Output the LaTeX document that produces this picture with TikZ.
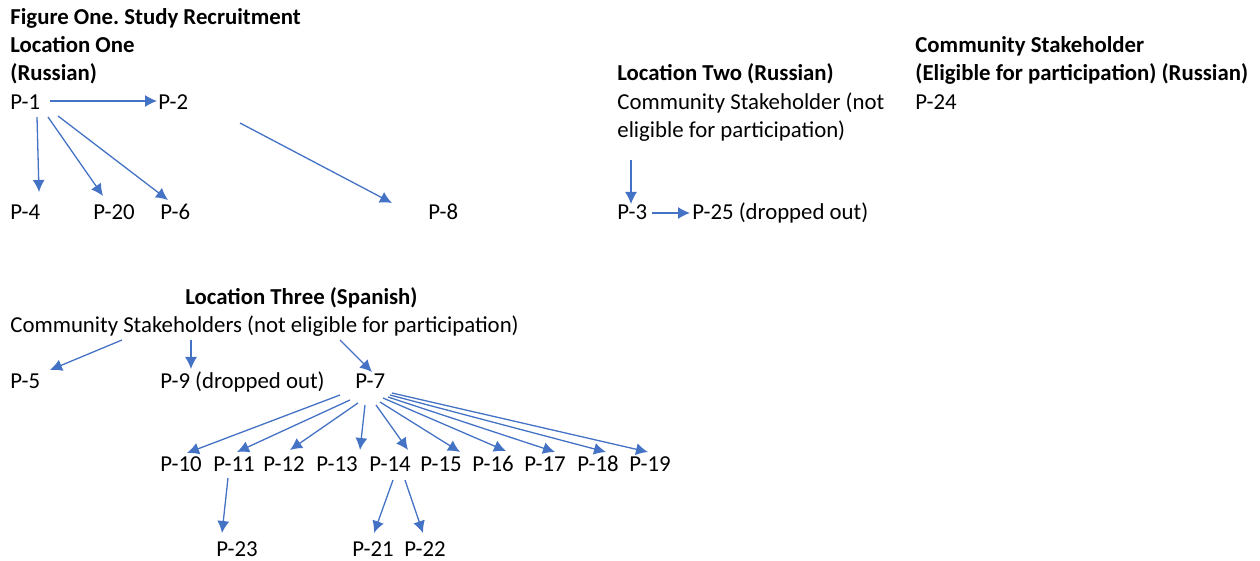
\documentclass[tikz,border=0pt]{standalone}
\usepackage{fontspec}
\setmainfont{Carlito}
\usetikzlibrary{calc}
\usetikzlibrary{arrows.meta}
\definecolor{linkblue}{RGB}{68,114,196}
\tikzset{>={Latex[length=6pt,width=6pt]}}
\tikzset{lbl/.style={anchor=base west, inner sep=0pt, align=left, font=\fontsize{11.4}{14}\selectfont},
  hdr/.style={lbl, font=\fontsize{11.4}{14}\selectfont\bfseries},
  link/.style={->, draw=linkblue, line width=.65pt}}

\begin{document}
\begin{tikzpicture}[x=.5pt, y=-.5pt]
    \useasboundingbox (0, 0) rectangle (1260, 561);
    \node[hdr](title) at (10, 25){Figure One.\ Study Recruitment};
    \node[hdr](loc1) at (10, 81){Location One\\(Russian)};
    \node[hdr](loc2) at (617, 81){Location Two (Russian)};
    \node[hdr](cs24) at (915, 81){Community Stakeholder\\(Eligible for participation) (Russian)};
    \node[hdr](loc3) at (185, 305){Location Three (Spanish)};
    % location one
    \node[lbl](p1) at (10, 110){P-1};
    \node[lbl](p2) at (158, 110){P-2};
    \node[lbl](p4) at (10, 220){P-4};
    \node[lbl](p20) at (93, 220){P-20};
    \node[lbl](p6) at (160, 220){P-6};
    \node[lbl](p8) at (428, 220){P-8};
    \draw[link]($(p1.base west)+(40, -9)$)--($(p2.base west)+(-1, -9)$);
    \draw[link]($(p1.base west)+(27, 7)$)--($(p4.base west)+(29, -28)$);
    \draw[link]($(p1.base west)+(38, 7)$)--($(p20.base west)+(10, -24)$);
    \draw[link]($(p1.base west)+(48, 6)$)--($(p6.base west)+(8, -20)$);
    \draw[link]($(p2.base west)+(82, 13)$)--($(p8.base west)+(-36, -17)$);
    % location two
    \node[lbl](cs2) at (617, 138){Community Stakeholder (not\\eligible for participation)};
    \node[lbl](p24) at (915, 110){P-24};
    \node[lbl](p3) at (617, 220){P-3};
    \node[lbl](p25) at (692, 220){P-25 (dropped out)};
    \draw[link]($(cs2.base west)+(14, 22)$)--($(p3.base west)+(14, -16)$);
    \draw[link]($(p3.base west)+(35, -7)$)--($(p25.base west)+(-2, -7)$);
    % location three
    \node[lbl](cs3) at (10, 333){Community Stakeholders (not eligible for participation)};
    \node[lbl](p5) at (10, 389){P-5};
    \node[lbl](p9) at (160, 389){P-9 (dropped out)};
    \node[lbl](p7) at (355, 389){P-7};
    \draw[link]($(cs3.base west)+(112, 7)$)--($(p5.base west)+(40, -19)$);
    \draw[link]($(cs3.base west)+(181, 7)$)--($(p9.base west)+(31, -20)$);
    \draw[link]($(cs3.base west)+(330, 7)$)--($(p7.base west)+(17, -17)$);
    \foreach \n/\x in {10/160, 11/213, 12/263, 13/316, 14/369, 15/420, 16/472, 17/524, 18/577, 19/629}
        \node[lbl](p\n) at (\x, 472){P-\n};
    \foreach \n/\a/\b/\c/\d in {10/-15/6/27/-19, 11/-5/11/24/-20, 12/3/14/27/-22, 13/10/16/44/-22,
        14/21/16/39/-22, 15/25/13/40/-20, 16/28/9/34/-21, 17/33/8/31/-20, 18/35/6/29/-20, 19/37/4/19/-20}
        \draw[link]($(p7.base west)+(\a, \b)$)--($(p\n.base west)+(\c, \d)$);
    \node[lbl](p23) at (216, 557){P-23};
    \node[lbl](p21) at (352, 557){P-21};
    \node[lbl](p22) at (404, 557){P-22};
    \draw[link]($(p11.base west)+(15, 6)$)--($(p23.base west)+(6, -24)$);
    \draw[link]($(p14.base west)+(24, 8)$)--($(p21.base west)+(22, -24)$);
    \draw[link]($(p14.base west)+(36, 8)$)--($(p22.base west)+(19, -24)$);
\end{tikzpicture}
\end{document}
